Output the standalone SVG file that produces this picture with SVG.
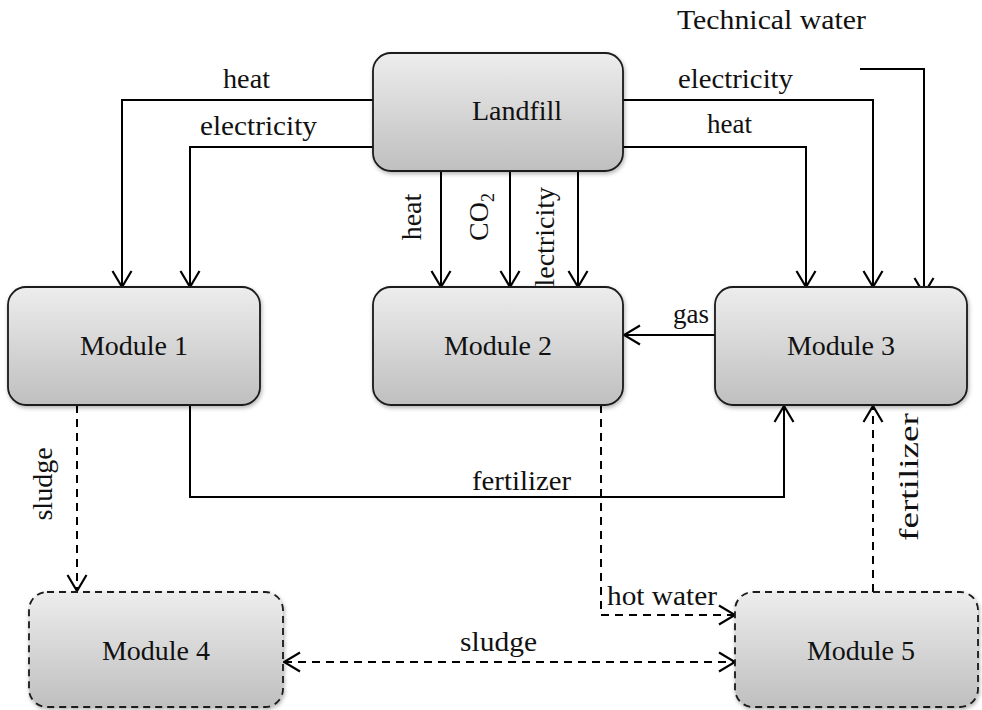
<svg xmlns="http://www.w3.org/2000/svg" width="982" height="710" viewBox="0 0 982 710">
  <style>
    .box { stroke: #1a1a1a; stroke-width: 1.8; fill: url(#boxFill); filter: url(#shadow); }
    .dbox { stroke: #1a1a1a; stroke-width: 1.8; stroke-dasharray: 7 5; fill: url(#boxFill); filter: url(#shadow); }
    .name { font-family: "Liberation Serif", "Times New Roman", serif; font-size: 28px; fill: #111; text-anchor: middle; }
    .lbl { font-family: "Liberation Serif", "Times New Roman", serif; font-size: 28px; fill: #111; }
    .mid { text-anchor: middle; }
    .flow { fill: none; stroke: #000; stroke-width: 2; marker-end: url(#arrow); }
    .dash { fill: none; stroke: #000; stroke-width: 2; stroke-dasharray: 8 6; marker-end: url(#arrow); }
  </style>
  <defs>
    <linearGradient id="boxFill" x1="0" y1="0" x2="0" y2="1">
      <stop offset="0" stop-color="#ededed"/>
      <stop offset="1" stop-color="#bfbfbf"/>
    </linearGradient>
    <filter id="shadow" x="-10%" y="-10%" width="120%" height="130%">
      <feDropShadow dx="1" dy="2" stdDeviation="2" flood-color="#000" flood-opacity="0.3"/>
    </filter>
    <marker id="arrow" markerUnits="userSpaceOnUse" viewBox="-18 -11 20 22" refX="0" refY="0" markerWidth="20" markerHeight="22" orient="auto-start-reverse">
      <path d="M-16,-9.5 L0,0 L-16,9.5" fill="none" stroke="#000" stroke-width="2.2" stroke-dasharray="none"/>
    </marker>
  </defs>

  <!-- connectors -->
  <g id="connectors">
    <!-- Landfill to Module 1 -->
    <path class="flow" d="M373,100 H122 V287"/>
    <path class="flow" d="M373,147 H190 V287"/>
    <!-- Landfill to Module 2 -->
    <path class="flow" d="M441,171 V287"/>
    <path class="flow" d="M510,171 V287"/>
    <path class="flow" d="M578,171 V287"/>
    <!-- Landfill to Module 3 -->
    <path class="flow" d="M623,100 H873 V287"/>
    <path class="flow" d="M623,147 H806 V287"/>
    <!-- technical water into Module 3 -->
    <path class="flow" d="M860,69 H924 V294"/>
    <!-- Module 3 to Module 2 -->
    <path class="flow" d="M715,335 H624"/>
    <!-- Module 1 to Module 3 -->
    <path class="flow" d="M190,405 V497 H784 V406"/>
    <!-- dashed links -->
    <path class="dash" d="M77,405 V591"/>
    <path class="dash" d="M601,405 V615 H735"/>
    <path class="dash" d="M873,592 V406"/>
    <path class="dash" d="M284,662 H735" marker-start="url(#arrow)"/>

    <!-- connector labels -->
    <text class="lbl" x="677" y="29" textLength="189" lengthAdjust="spacingAndGlyphs">Technical water</text>
    <text class="lbl" x="223" y="88" textLength="47" lengthAdjust="spacingAndGlyphs">heat</text>
    <text class="lbl" x="200" y="135" textLength="117" lengthAdjust="spacingAndGlyphs">electricity</text>
    <text class="lbl" x="678" y="88" textLength="115" lengthAdjust="spacingAndGlyphs">electricity</text>
    <text class="lbl" x="707" y="133" textLength="45" lengthAdjust="spacingAndGlyphs">heat</text>
    <text class="lbl mid" transform="translate(421,217) rotate(-90)">heat</text>
    <text class="lbl mid" transform="translate(488,217) rotate(-90)">CO<tspan font-size="18" dy="6">2</tspan></text>
    <text class="lbl mid" transform="translate(554,243) rotate(-90)">electricity</text>
    <text class="lbl" x="673" y="323" textLength="36" lengthAdjust="spacingAndGlyphs">gas</text>
    <text class="lbl" x="472" y="490" textLength="99" lengthAdjust="spacingAndGlyphs">fertilizer</text>
    <text class="lbl mid" transform="translate(52,484) rotate(-90)">sludge</text>
    <text class="lbl mid" transform="translate(918,477) rotate(-90)" textLength="128" lengthAdjust="spacingAndGlyphs">fertilizer</text>
    <text class="lbl" x="607" y="605" textLength="110" lengthAdjust="spacingAndGlyphs">hot water</text>
    <text class="lbl" x="460" y="651" textLength="77" lengthAdjust="spacingAndGlyphs">sludge</text>
  </g>

  <!-- nodes -->
  <g id="landfill">
    <rect class="box" x="373" y="53" width="250" height="118" rx="18" ry="18"/>
    <text class="name" x="517" y="120" font-size="26">Landfill</text>
  </g>
  <g id="module1">
    <rect class="box" x="8" y="287" width="252" height="118" rx="18" ry="18"/>
    <text class="name" x="134" y="355">Module 1</text>
  </g>
  <g id="module2">
    <rect class="box" x="373" y="287" width="250" height="118" rx="18" ry="18"/>
    <text class="name" x="498" y="355">Module 2</text>
  </g>
  <g id="module3">
    <rect class="box" x="715" y="287" width="252" height="118" rx="18" ry="18"/>
    <text class="name" x="841" y="355">Module 3</text>
  </g>
  <g id="module4">
    <rect class="dbox" x="29" y="592" width="254" height="115" rx="18" ry="18"/>
    <text class="name" x="156" y="660">Module 4</text>
  </g>
  <g id="module5">
    <rect class="dbox" x="735" y="592" width="243" height="115" rx="18" ry="18"/>
    <text class="name" x="861" y="660">Module 5</text>
  </g>
</svg>
